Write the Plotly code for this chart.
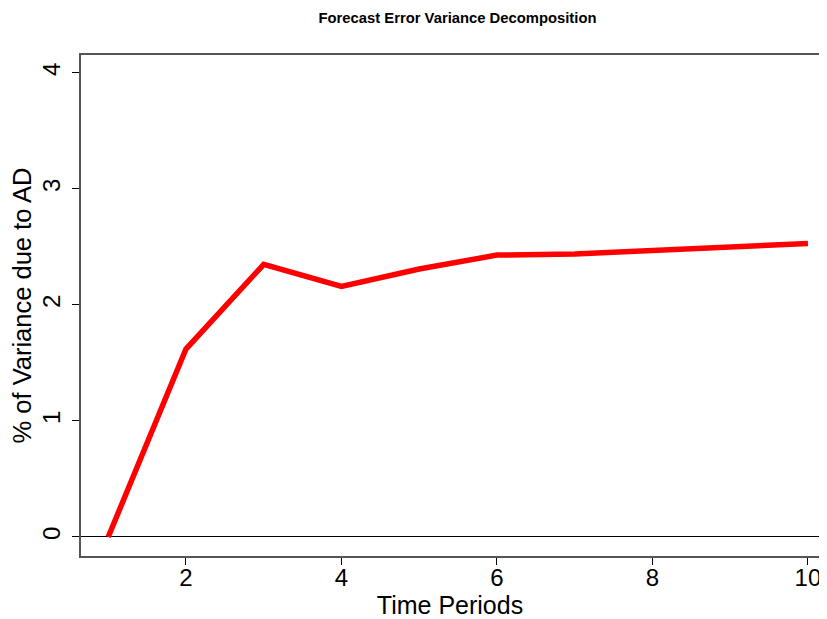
import plotly.graph_objects as go

periods = [1, 2, 3, 4, 5, 6, 7, 8, 9, 10]
variance_ad = [0.0, 1.62, 2.35, 2.16, 2.31, 2.43, 2.44, 2.47, 2.51, 2.53]
x_ticks = [2, 4, 6, 8, 10]
y_ticks = [0, 1, 2, 3, 4]

font_family = "Liberation Sans, Arial, Helvetica, sans-serif"

fig = go.Figure()
fig.add_trace(go.Scatter(
    x=periods, y=variance_ad, mode="lines",
    line=dict(color="#ff0000", width=5.5),
    hoverinfo="skip", showlegend=False,
))

fig.update_layout(
    width=811, height=611,
    margin=dict(l=73, r=0, t=47, b=63, pad=0),
    paper_bgcolor="white", plot_bgcolor="white",
    font=dict(family=font_family, color="black"),
    title=dict(
        text="<b>Forecast Error Variance Decomposition</b>",
        font=dict(size=14.8, family=font_family, color="black"),
        xref="container", x=449.5 / 811, xanchor="center",
        yref="container", y=1 - 9.7 / 611, yanchor="middle",
    ),
    xaxis=dict(
        range=[0.65, 10.142], tickvals=x_ticks, ticktext=[str(v) for v in x_ticks],
        showgrid=False, zeroline=False, automargin=False,
        showline=True, linecolor="#555555", linewidth=1.5, mirror=True,
        ticks="outside", ticklen=7, tickcolor="black", tickwidth=1,
        tickfont=dict(size=24), ticklabelstandoff=-8, ticklabeloverflow="allow",
        title=dict(text="Time Periods", font=dict(size=25), standoff=8),
    ),
    yaxis=dict(
        range=[-0.164, 4.155], tickvals=y_ticks, ticktext=[str(v) for v in y_ticks],
        showgrid=False, zeroline=True, zerolinecolor="black", zerolinewidth=1,
        automargin=False,
        showline=True, linecolor="#555555", linewidth=1.5, mirror=False,
        ticks="outside", ticklen=7, tickcolor="black", tickwidth=1,
        tickangle=-90, tickfont=dict(size=24), ticklabelstandoff=3,
        title=dict(text="% of Variance due to AD", font=dict(size=25.5), standoff=0),
    ),
)

fig.write_html("out.html")
